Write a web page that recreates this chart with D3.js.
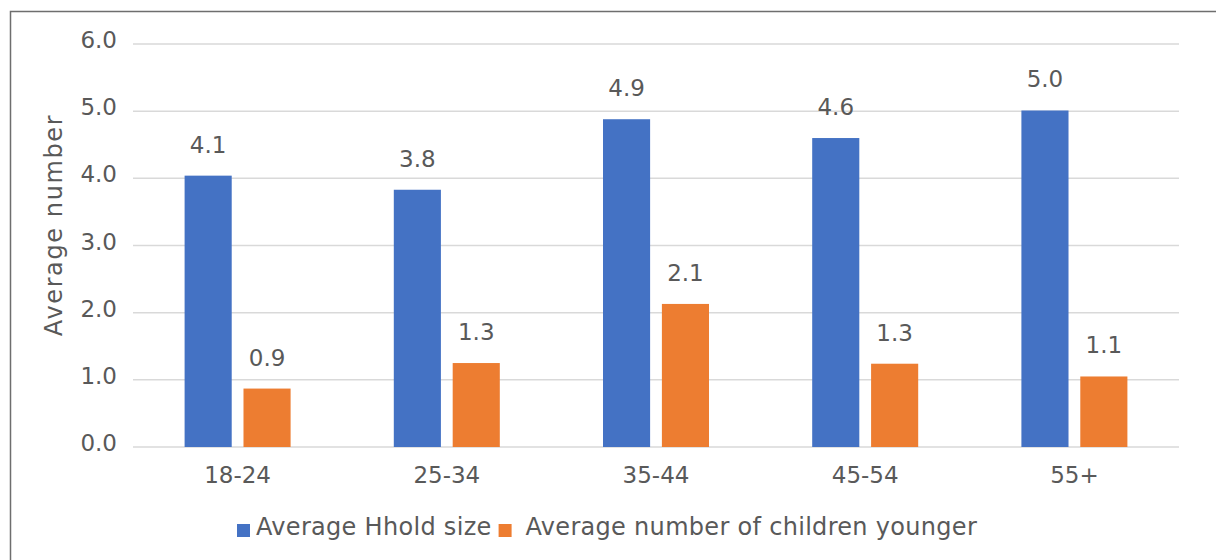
<!DOCTYPE html>
<html>
<head>
<meta charset="utf-8">
<script src="https://cdn.jsdelivr.net/npm/d3@7"></script>
<style>
  body { margin: 0; background: #fff; }
  svg text { font-family: "DejaVu Sans", sans-serif; fill: #595959; }
</style>
</head>
<body>
<script>
(function(){

    //chart data
    var categories = ["18-24", "25-34", "35-44", "45-54", "55+"];
    var seriesNames = ["Average Hhold size", " Average number of children younger"];
    var hholdSize = [4.04, 3.83, 4.88, 4.60, 5.01];
    var childrenYounger = [0.87, 1.25, 2.13, 1.24, 1.05];
    var hholdLabels = ["4.1", "3.8", "4.9", "4.6", "5.0"];
    var childLabels = ["0.9", "1.3", "2.1", "1.3", "1.1"];
    var yTicks = [0, 1, 2, 3, 4, 5, 6];
    var colors = ["#4472C4", "#ED7D31"];

    window.onload = drawChart();

function drawChart(){
    var width = 1216,
        height = 560;

    var svg = d3.select("body")
        .append("svg")
        .attr("width", width)
        .attr("height", height);

    //outer frame (runs off the right and bottom edges)
    svg.append("rect")
        .attr("x", 10.5)
        .attr("y", 11.5)
        .attr("width", 1400)
        .attr("height", 700)
        .attr("fill", "none")
        .attr("stroke", "#6e6e6e")
        .attr("stroke-width", 1.5);

    var plotLeft = 133, plotRight = 1179;

    var y = d3.scaleLinear()
        .domain([0, 6])
        .range([447, 44]);

    var x0 = d3.scaleBand()
        .domain(categories)
        .range([plotLeft, plotRight]);

    var groupW = 106;
    var x1 = d3.scaleBand()
        .domain([0, 1])
        .range([0, groupW])
        .paddingInner(0.2);
    var offset = (x0.bandwidth() - groupW) / 2;

    //gridlines
    svg.selectAll(".grid")
        .data(yTicks)
        .enter()
        .append("line")
        .attr("class", "grid")
        .attr("x1", plotLeft)
        .attr("x2", plotRight)
        .attr("y1", function(d){ return y(d); })
        .attr("y2", function(d){ return y(d); })
        .attr("stroke", "#d9d9d9")
        .attr("stroke-width", 1.5);

    //y tick labels
    svg.selectAll(".ytick")
        .data(yTicks)
        .enter()
        .append("text")
        .attr("class", "ytick")
        .attr("x", 117)
        .attr("y", function(d){ return y(d) + 4; })
        .attr("text-anchor", "end")
        .style("font-size", "23px")
        .text(function(d){ return d3.format(".1f")(d); });

    //y axis title
    svg.append("text")
        .attr("transform", "translate(62,225) rotate(-90)")
        .attr("text-anchor", "middle")
        .style("font-size", "24px")
        .style("letter-spacing", "1.6px")
        .text("Average number");

    var series = [hholdSize, childrenYounger];
    var labels = [hholdLabels, childLabels];

    series.forEach(function(vals, s){
        svg.selectAll(".bar" + s)
            .data(vals)
            .enter()
            .append("rect")
            .attr("class", "bar" + s)
            .attr("x", function(d, i){ return x0(categories[i]) + offset + x1(s); })
            .attr("y", function(d){ return y(d); })
            .attr("width", x1.bandwidth())
            .attr("height", function(d){ return y(0) - y(d); })
            .attr("fill", colors[s]);

        svg.selectAll(".lab" + s)
            .data(vals)
            .enter()
            .append("text")
            .attr("class", "lab" + s)
            .attr("x", function(d, i){ return x0(categories[i]) + offset + x1(s) + x1.bandwidth() / 2; })
            .attr("y", function(d){ return y(d) - 23; })
            .attr("text-anchor", "middle")
            .style("font-size", "23px")
            .text(function(d, i){ return labels[s][i]; });
    });

    //category labels
    svg.selectAll(".xtick")
        .data(categories)
        .enter()
        .append("text")
        .attr("class", "xtick")
        .attr("x", function(d){ return x0(d) + x0.bandwidth() / 2; })
        .attr("y", 483)
        .attr("text-anchor", "middle")
        .style("font-size", "23px")
        .text(function(d){ return d; });

    //legend
    var lx = 237;
    seriesNames.forEach(function(name, s){
        svg.append("rect")
            .attr("x", lx)
            .attr("y", 524)
            .attr("width", 13)
            .attr("height", 13)
            .attr("fill", colors[s]);
        var t = svg.append("text")
            .attr("x", lx + 19)
            .attr("y", 535)
            .style("font-size", "24px")
            .style("letter-spacing", "0.3px")
            .style("white-space", "pre")
            .attr("xml:space", "preserve")
            .text(name);
        lx = lx + 19 + t.node().getComputedTextLength() + 7;
    });
};

})();
</script>
</body>
</html>
